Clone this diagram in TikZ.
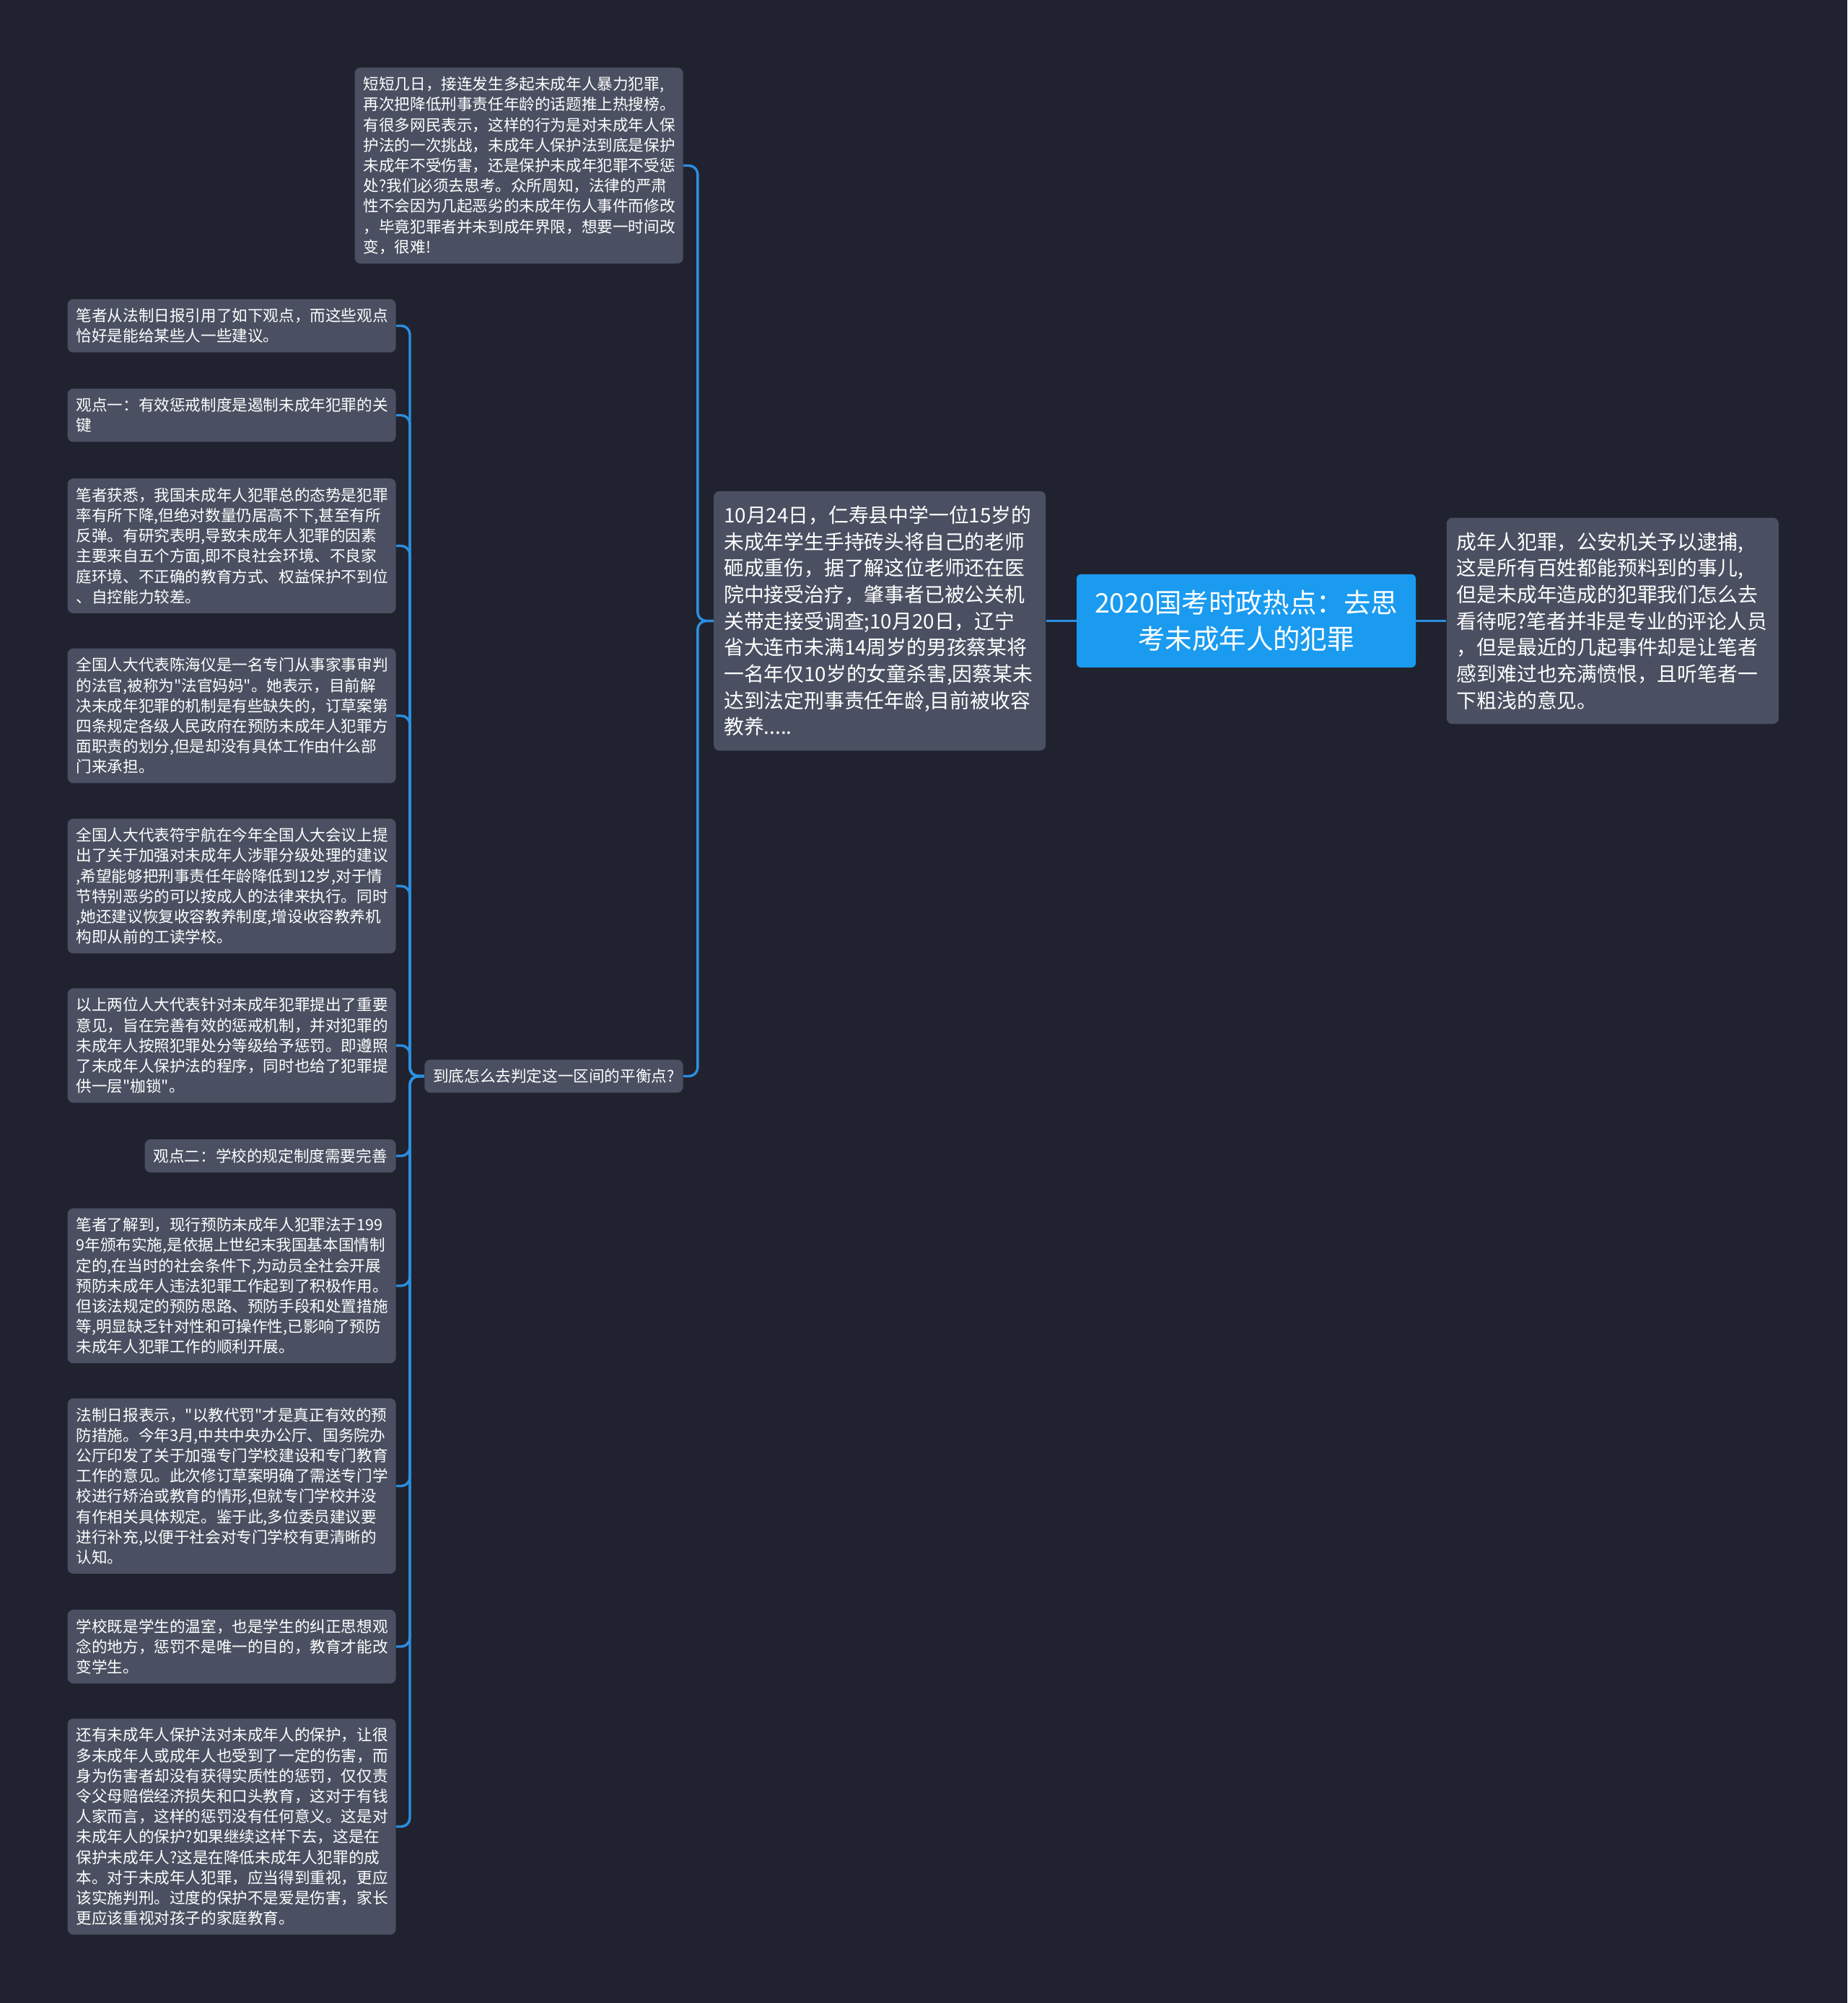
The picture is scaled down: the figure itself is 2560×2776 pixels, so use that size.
\documentclass[tikz,border=0pt]{standalone}
\usepackage{fontspec}
\setmainfont{Noto Sans CJK SC}[Ligatures=TeXOff]
\usepackage{tikz}
\usetikzlibrary{positioning, calc}
\definecolor{bgdark}{HTML}{20232F}
\definecolor{boxgray}{HTML}{4A5061}
\definecolor{rootblue}{HTML}{1A9BF0}
\definecolor{linkblue}{HTML}{2C8FE2}
\tikzset{mapfig/.style={x=0.5pt, y=-0.5pt}}
\tikzset{dbox/.style={fill=boxgray, rounded corners=4, text=white, align=left, inner xsep=6pt, inner ysep=6.4pt, font=\fontsize{10.8}{14.1}\selectfont}}
\tikzset{dleaf/.style={dbox, text width=215.5pt, anchor=east}}
\tikzset{dbig/.style={dbox, text width=216pt, inner xsep=7pt, inner ysep=10pt, font=\fontsize{13.9}{18.35}\selectfont}}
\tikzset{droot/.style={fill=rootblue, rounded corners=3, text=white, align=center, text width=215pt, inner xsep=10pt, inner ysep=11.2pt, font=\fontsize{18.7}{24.8}\selectfont}}
\tikzset{lnk/.style={draw=linkblue, line width=1.7pt, rounded corners=6pt}}

\begin{document}
\begin{tikzpicture}[mapfig]
				\fill[bgdark] (0,0) rectangle (2560,2776);
				\useasboundingbox (0,0) rectangle (2560,2776);
				%
				\node[droot] (root) at (1727,860.5) {2020国考时政热点：去思\\考未成年人的犯罪};
				\node[dbig, right=21pt of root] (side) {成年人犯罪，公安机关予以逮捕,\\这是所有百姓都能预料到的事儿,\\但是未成年造成的犯罪我们怎么去\\看待呢?笔者并非是专业的评论人员\\，但是最近的几起事件却是让笔者\\感到难过也充满愤恨，且听笔者一\\下粗浅的意见。};
				\node[dbig, left=21pt of root] (mid) {10月24日，仁寿县中学一位15岁的\\未成年学生手持砖头将自己的老师\\砸成重伤，据了解这位老师还在医\\院中接受治疗，肇事者已被公关机\\关带走接受调查;10月20日，辽宁\\省大连市未满14周岁的男孩蔡某将\\一名年仅10岁的女童杀害,因蔡某未\\达到法定刑事责任年龄,目前被收容\\教养.....};
				%
				\node[dleaf] (top) at (947,229.5) {短短几日，接连发生多起未成年人暴力犯罪,\\再次把降低刑事责任年龄的话题推上热搜榜。\\有很多网民表示，这样的行为是对未成年人保\\护法的一次挑战，未成年人保护法到底是保护\\未成年不受伤害，还是保护未成年犯罪不受惩\\处?我们必须去思考。众所周知，法律的严肃\\性不会因为几起恶劣的未成年伤人事件而修改\\，毕竟犯罪者并未到成年界限，想要一时间改\\变，很难!};
				\node[dbox, anchor=east] (ques) at (947,1491.5) {到底怎么去判定这一区间的平衡点?};
				%
				\node[dleaf] (l1) at (549,451.5) {笔者从法制日报引用了如下观点，而这些观点\\恰好是能给某些人一些建议。};
				\node[dleaf] (l2) at (549,575.5) {观点一：有效惩戒制度是遏制未成年犯罪的关\\键};
				\node[dleaf] (l3) at (549,756.5) {笔者获悉，我国未成年人犯罪总的态势是犯罪\\率有所下降,但绝对数量仍居高不下,甚至有所\\反弹。有研究表明,导致未成年人犯罪的因素\\主要来自五个方面,即不良社会环境、不良家\\庭环境、不正确的教育方式、权益保护不到位\\、自控能力较差。};
				\node[dleaf] (l4) at (549,992) {全国人大代表陈海仪是一名专门从事家事审判\\的法官,被称为"法官妈妈"。她表示，目前解\\决未成年犯罪的机制是有些缺失的，订草案第\\四条规定各级人民政府在预防未成年人犯罪方\\面职责的划分,但是却没有具体工作由什么部\\门来承担。};
				\node[dleaf] (l5) at (549,1228) {全国人大代表符宇航在今年全国人大会议上提\\出了关于加强对未成年人涉罪分级处理的建议\\,希望能够把刑事责任年龄降低到12岁,对于情\\节特别恶劣的可以按成人的法律来执行。同时\\,她还建议恢复收容教养制度,增设收容教养机\\构即从前的工读学校。};
				\node[dleaf] (l6) at (549,1449) {以上两位人大代表针对未成年犯罪提出了重要\\意见，旨在完善有效的惩戒机制，并对犯罪的\\未成年人按照犯罪处分等级给予惩罚。即遵照\\了未成年人保护法的程序，同时也给了犯罪提\\供一层"枷锁"。};
				\node[dbox, anchor=east] (l7) at (549,1602) {观点二：学校的规定制度需要完善};
				\node[dleaf] (l8) at (549,1782) {笔者了解到，现行预防未成年人犯罪法于199\\9年颁布实施,是依据上世纪末我国基本国情制\\定的,在当时的社会条件下,为动员全社会开展\\预防未成年人违法犯罪工作起到了积极作用。\\但该法规定的预防思路、预防手段和处置措施\\等,明显缺乏针对性和可操作性,已影响了预防\\未成年人犯罪工作的顺利开展。};
				\node[dleaf] (l9) at (549,2059.5) {法制日报表示，"以教代罚"才是真正有效的预\\防措施。今年3月,中共中央办公厅、国务院办\\公厅印发了关于加强专门学校建设和专门教育\\工作的意见。此次修订草案明确了需送专门学\\校进行矫治或教育的情形,但就专门学校并没\\有作相关具体规定。鉴于此,多位委员建议要\\进行补充,以便于社会对专门学校有更清晰的\\认知。};
				\node[dleaf] (l10) at (549,2282) {学校既是学生的温室，也是学生的纠正思想观\\念的地方，惩罚不是唯一的目的，教育才能改\\变学生。};
				\node[dleaf] (l11) at (549,2531.5) {还有未成年人保护法对未成年人的保护，让很\\多未成年人或成年人也受到了一定的伤害，而\\身为伤害者却没有获得实质性的惩罚，仅仅责\\令父母赔偿经济损失和口头教育，这对于有钱\\人家而言，这样的惩罚没有任何意义。这是对\\未成年人的保护?如果继续这样下去，这是在\\保护未成年人?这是在降低未成年人犯罪的成\\本。对于未成年人犯罪，应当得到重视，更应\\该实施判刑。过度的保护不是爱是伤害，家长\\更应该重视对孩子的家庭教育。};
				%
				\draw[lnk] (root.west) -- (mid.east);
				\draw[lnk] (root.east) -- (side.west);
				\foreach \c in {top, ques}
					\draw[lnk] (mid.west) -- ++(-11pt,0) |- (\c.east);
				\foreach \c in {l1, l2, l3, l4, l5, l6, l7, l8, l9, l10, l11}
					\draw[lnk] (ques.west) -- ++(-10pt,0) |- (\c.east);
			\end{tikzpicture}
\end{document}
